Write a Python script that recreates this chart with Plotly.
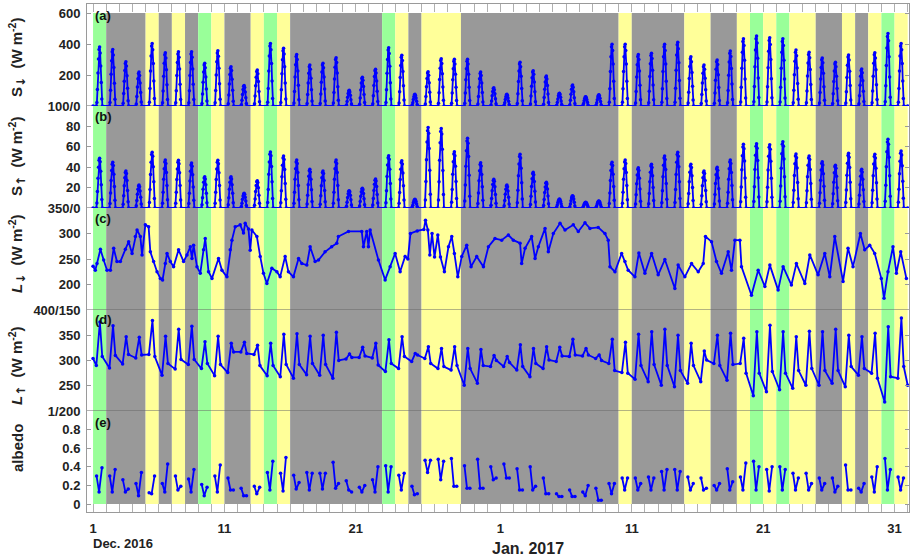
import plotly.graph_objects as go

# ---------------- data ----------------
# day number: Dec 1 2016 = 1, Jan 1 2017 = 32, Feb 1 2017 = 63
DAYS = list(range(1, 63))
# background class for each day: g = green, y = yellow, d = grey
DAY_CLASS = ("g d d d y d y d g y d d y g y d d d d d d d g y d y y y d d d "
             "d d d d d d d d d y d d d d y y d d y g y g y y d d y d y g y").split()
CLASS_COLOR = {"g": "#99ff99", "y": "#ffff99", "d": "#999999"}

# (a) incoming shortwave, daily peak (W m-2)
SDOWN_PEAK = [380, 365, 286, 219, 404, 344, 350, 350, 275, 357, 254, 133, 232, 404, 372, 333,
              264, 275, 312, 101, 185, 237, 376, 327, 75, 221, 305, 301, 301, 219, 117,
              75, 282, 228, 194, 82, 135, 60, 73, 398, 398, 333, 340, 398, 411, 318, 264,
              297, 355, 434, 452, 441, 434, 361, 346, 310, 282, 329, 239, 344, 467, 404]
# (b) reflected shortwave, daily peak (W m-2)
SUP_PEAK = [48.7, 44.8, 36.3, 22.5, 54.6, 47, 46.7, 44, 30.7, 46.7, 30.7, 14.4, 26.8, 55, 51, 47,
            38, 36.3, 47, 17, 19.3, 28.4, 51.3, 46.4, 8.5, 78.8, 78, 55.2, 68.3, 44.4, 28.1,
            22.5, 52.6, 35, 25.2, 8.8, 12, 5.6, 6.9, 44.8, 47, 39.5, 42.8, 51, 54.6, 42.8, 36.3,
            39.9, 47, 62.4, 63, 62, 65, 53, 51, 45.4, 42, 53.6, 38, 52.6, 67.3, 56]
# typical diurnal course (fraction of the daily peak), hours 6..17
HOURS = [6, 7, 8, 9, 10, 11, 12, 13, 14, 15, 16, 17]
SHAPE_DOWN = [0, 0.06, 0.28, 0.56, 0.80, 0.96, 1.0, 0.90, 0.68, 0.40, 0.12, 0]
SHAPE_UP = [0, 0.10, 0.33, 0.60, 0.82, 0.96, 1.0, 0.93, 0.74, 0.47, 0.17, 0]

# (c) incoming longwave: (day, value)
LDOWN_T = [1.00, 1.17, 1.30, 1.56, 1.81, 2.06, 2.32, 2.57, 2.82, 3.08, 3.46, 3.71, 3.97, 4.22, 4.35,
           4.60, 4.73, 4.98, 5.23, 5.36, 5.61, 5.87, 6.12, 6.29, 6.50, 6.63, 6.88, 7.13, 7.51, 7.89,
           8.15, 8.40, 8.53, 8.65, 8.91, 9.16, 9.41, 9.54, 9.79, 10.05, 10.55, 10.81, 11.19, 11.44,
           11.57, 11.82, 12.20, 12.45, 12.58, 12.83, 12.96, 13.09, 13.47, 13.72, 13.97, 14.23, 14.61,
           14.99, 15.24, 15.62, 15.87, 16.25, 16.64, 16.89, 17.27, 17.52, 17.90, 18.16, 18.66, 19.16,
           19.55, 19.67, 20.44, 21.45, 21.58, 21.83, 21.96, 22.09, 22.72, 23.23, 23.61, 23.99, 24.37,
           24.75, 24.96, 25.16, 25.67, 26.18, 26.30, 26.48, 26.63, 26.80, 26.99, 27.24, 27.44, 27.74,
           28.05, 28.30, 28.50, 28.76, 29.06, 29.44, 29.77, 30.20, 30.71, 31.09, 31.59, 32.10, 32.61,
           32.99, 33.50, 33.62, 33.88, 34.38, 34.64, 34.89, 35.40, 35.65, 36.03, 36.54, 36.92, 37.55,
           37.93, 38.44, 38.82, 39.45, 39.96, 40.21, 40.34, 40.72, 41.23, 41.48, 41.73, 42.24, 42.54,
           43.00, 43.51, 44.01, 44.52, 45.28, 45.53, 46.04, 46.55, 47.06, 47.44, 47.61, 48.07, 48.45,
           48.83, 49.34, 49.59, 49.85, 50.23, 50.35, 51.11, 51.62, 52.13, 52.51, 53.14, 53.52, 54.15,
           54.53, 55.17, 55.55, 56.18, 56.69, 57.07, 57.45, 58.08, 58.46, 58.84, 59.40, 59.73, 60.11,
           60.49, 60.99, 61.20, 61.50, 61.88, 62.14, 62.47, 62.90]
LDOWN_V = [236, 228, 241, 269, 248, 228, 228, 271, 245, 245, 269, 284, 261, 294, 307,
           294, 258, 317, 313, 264, 245, 225, 212, 209, 241, 261, 245, 235, 268, 245,
           258, 274, 251, 277, 235, 222, 268, 290, 225, 212, 251, 228, 215, 268,
           287, 313, 317, 301, 320, 309, 267, 307, 294, 255, 222, 202, 232,
           225, 215, 255, 225, 215, 251, 241, 238, 274, 245, 248, 264, 274,
           281, 294, 304, 304, 274, 304, 274, 307, 248, 209, 235, 261, 225,
           255, 250, 300, 305, 308, 326, 307, 258, 300, 254, 297, 254, 225,
           274, 294, 261, 215, 255, 277, 235, 255, 235, 274, 290, 287, 297,
           287, 281, 241, 271, 294, 251, 274, 310, 264, 300, 320, 307, 317,
           304, 321, 310, 312, 300, 287, 235, 225, 261, 245, 228, 215, 262,
           222, 261, 219, 249, 192, 238, 215, 241, 225, 241, 294, 284, 245,
           222, 264, 228, 287, 287, 235, 179, 228, 196, 238, 189, 235, 199,
           241, 202, 258, 219, 261, 215, 294, 206, 271, 235, 300, 268, 277,
           261, 212, 173, 225, 274, 222, 264, 212]

# (d) outgoing longwave: morning minimum, midday peak, evening value (W m-2)
LUP_MIN = [290, 285, 293, 305, 312, 271, 283, 292, 284, 270, 276, 317, 312, 270, 268, 265,
           272, 271, 265, 303, 306, 305, 278, 284, 298, 304, 284, 281, 251, 255, 288,
           288, 281, 268, 284, 298, 308, 309, 304, 294, 276, 263, 258, 251, 248, 255, 258,
           294, 261, 294, 230, 238, 242, 245, 251, 251, 255, 248, 271, 275, 218, 265]
LUP_PEAK = [376, 369, 347, 346, 379, 348, 362, 368, 337, 348, 334, 336, 330, 334, 352, 353,
            348, 350, 356, 313, 326, 334, 341, 347, 314, 327, 324, 327, 324, 322, 310,
            308, 331, 324, 327, 326, 342, 324, 311, 342, 336, 352, 357, 362, 350, 334, 319,
            350, 354, 344, 357, 370, 357, 347, 358, 357, 362, 350, 347, 354, 367, 384]
LUP_EVE = [308, 310, 312, 311, 308, 294, 302, 302, 294, 292, 317, 314, 290, 290, 292, 292,
           294, 292, 300, 306, 309, 291, 294, 308, 311, 294, 288, 290, 284, 290, 300,
           296, 288, 294, 301, 309, 311, 311, 300, 280, 275, 290, 292, 290, 280, 290, 301,
           290, 292, 275, 275, 278, 275, 280, 284, 280, 280, 288, 284, 265, 268, 288]
LUP_START = 304
LUP_END = 251

# (e) albedo: morning value, midday minimum, afternoon value
ALB_START = [0.30, 0.30, 0.26, 0.22, 0.12, 0.22, 0.30, 0.27, 0.21, 0.30, 0.28, 0.17, 0.19, 0.34,
             0.33, 0.31, 0.34, 0.33, 0.45, 0.25, 0.18, 0.26, 0.41, 0.31, 0.19, 0.47, 0.48, 0.49,
             0.41, 0.48, 0.40, 0.43, 0.38, 0.40, 0.28, 0.11, 0.15, 0.13, 0.17, 0.22, 0.28, 0.28,
             0.29, 0.35, 0.37, 0.29, 0.28, 0.20, 0.38, 0.29, 0.46, 0.37, 0.40, 0.33, 0.33, 0.28,
             0.28, 0.42, 0.17, 0.29, 0.49, 0.29]
ALB_MIN = [0.13, 0.13, 0.13, 0.09, 0.11, 0.13, 0.15, 0.13, 0.09, 0.13, 0.15, 0.09, 0.11, 0.15,
           0.14, 0.16, 0.15, 0.16, 0.17, 0.15, 0.13, 0.13, 0.13, 0.15, 0.10, 0.34, 0.26, 0.19,
           0.17, 0.17, 0.26, 0.28, 0.15, 0.15, 0.11, 0.08, 0.08, 0.09, 0.04, 0.11, 0.15, 0.15,
           0.15, 0.15, 0.15, 0.15, 0.15, 0.15, 0.15, 0.15, 0.15, 0.14, 0.15, 0.15, 0.15, 0.15,
           0.13, 0.15, 0.13, 0.13, 0.15, 0.15]
ALB_END = [0.39, 0.37, 0.16, 0.34, 0.30, 0.43, 0.19, 0.37, 0.18, 0.42, 0.15, 0.09, 0.18, 0.46,
           0.50, 0.23, 0.33, 0.33, 0.22, 0.13, 0.20, 0.40, 0.40, 0.33, 0.11, 0.47, 0.46, 0.19,
           0.17, 0.17, 0.28, 0.28, 0.15, 0.19, 0.11, 0.08, 0.08, 0.20, 0.04, 0.22, 0.28, 0.22,
           0.28, 0.37, 0.35, 0.22, 0.17, 0.22, 0.24, 0.44, 0.40, 0.40, 0.37, 0.28, 0.22, 0.22,
           0.19, 0.15, 0.22, 0.40, 0.37, 0.28]

TICK_DAYS = [1, 11, 21, 32, 42, 52, 62]
TICK_TEXT = ["1", "11", "21", "1", "11", "21", "31"]

# ---------------- assemble series ----------------
def diurnal(peaks, shape):
    xs, ys = [1.0], [0.0]
    for d, pk in zip(DAYS, peaks):
        for h, f in zip(HOURS, shape):
            xs.append(d + h / 24.0)
            ys.append(pk * f)
    xs.append(63.0)
    ys.append(0.0)
    return xs, ys

sd_x, sd_y = diurnal(SDOWN_PEAK, SHAPE_DOWN)
su_x, su_y = diurnal(SUP_PEAK, SHAPE_UP)

lu_x, lu_y = [1.0], [LUP_START]
for d, a, b, c in zip(DAYS, LUP_MIN, LUP_PEAK, LUP_EVE):
    lu_x += [d + 0.25, d + 0.52, d + 0.70]
    lu_y += [a, b, c]
lu_x.append(63.0)
lu_y.append(LUP_END)

al_x, al_y = [], []
for d, a, b, c in zip(DAYS, ALB_START, ALB_MIN, ALB_END):
    al_x += [d + 0.27, d + 0.46, d + 0.68, None]
    al_y += [a, b, c, None]

# ---------------- figure ----------------
FONT = "Liberation Sans, Arial, sans-serif"
BLUE = "#0000ff"
H = 508.0  # plot-area height in px (for domain fractions)

fig = go.Figure()
line = dict(color=BLUE, width=1.8)
mk = dict(color=BLUE, size=3.5)
fig.add_trace(go.Scatter(x=sd_x, y=sd_y, mode="lines+markers", line=line, marker=mk, yaxis="y"))
fig.add_trace(go.Scatter(x=su_x, y=su_y, mode="lines+markers", line=line, marker=mk, yaxis="y2"))
fig.add_trace(go.Scatter(x=LDOWN_T, y=LDOWN_V, mode="lines+markers", line=line, marker=mk, yaxis="y3"))
fig.add_trace(go.Scatter(x=lu_x, y=lu_y, mode="lines+markers", line=line, marker=mk, yaxis="y4"))
fig.add_trace(go.Scatter(x=al_x, y=al_y, mode="lines+markers", line=line, marker=mk, yaxis="y5"))
fig.add_trace(go.Scatter(x=[None], y=[None], xaxis="x2", yaxis="y", mode="markers"))

# background day classes (merged runs)
start = 0
for i in range(1, len(DAY_CLASS) + 1):
    if i == len(DAY_CLASS) or DAY_CLASS[i] != DAY_CLASS[start]:
        fig.add_shape(type="rect", xref="x", yref="paper", x0=DAYS[start], x1=DAYS[i - 1] + 1,
                      y0=8 / H, y1=499 / H, fillcolor=CLASS_COLOR[DAY_CLASS[start]],
                      line=dict(width=0), layer="below")
        start = i

# panel separators
for yr, val in [("y", 0), ("y2", 0), ("y3", 150), ("y4", 200)]:
    fig.add_shape(type="line", xref="x domain", yref=yr, x0=0, x1=1, y0=val, y1=val,
                  line=dict(color="#666666", width=1), layer="below")

tf = dict(family=FONT, size=13, color="#222222", weight="bold")
common_y = dict(anchor="x", showline=True, linecolor="#9a9a9a", linewidth=1, mirror="ticks",
                ticks="inside", ticklen=4, tickcolor="#9a9a9a", showgrid=False, zeroline=False,
                tickfont=tf, tickmode="array", ticklabelstandoff=3)

fig.update_layout(
    width=913, height=559,
    margin=dict(l=87, r=4, t=4, b=47),
    paper_bgcolor="white", plot_bgcolor="white",
    showlegend=False,
    xaxis=dict(domain=[0, 1], range=[0.54, 63.1], anchor="y5", showline=True, linecolor="#9a9a9a",
               ticks="inside", ticklen=8, tickcolor="#b0b0b0", tickmode="array",
               tickvals=TICK_DAYS, ticktext=TICK_TEXT, tickfont=tf, showgrid=False, zeroline=False,
               ticklabelstandoff=4,
               minor=dict(tickvals=list(range(1, 64)), ticks="inside", ticklen=8,
                          tickcolor="#b0b0b0", showgrid=False)),
    xaxis2=dict(overlaying="x", side="top", anchor="y", range=[0.54, 63.1], showline=True,
                linecolor="#9a9a9a", ticks="inside", ticklen=8, tickcolor="#b0b0b0",
                tickmode="array", tickvals=TICK_DAYS, showticklabels=False, showgrid=False,
                zeroline=False,
                minor=dict(tickvals=list(range(1, 64)), ticks="inside", ticklen=8,
                           tickcolor="#b0b0b0", showgrid=False)),
    yaxis=dict(domain=[406 / H, 1.0], range=[0, 600 + 9 * 600 / 93],
               tickvals=[0, 200, 400, 600], ticktext=["100/0", "200", "400", "600"], **common_y),
    yaxis2=dict(domain=[304 / H, 406 / H], range=[0, 100],
                tickvals=[0, 20, 40, 60, 80], ticktext=["350/0", "20", "40", "60", "80"], **common_y),
    yaxis3=dict(domain=[202 / H, 304 / H], range=[150, 350],
                tickvals=[150, 200, 250, 300], ticktext=["400/150", "200", "250", "300"], **common_y),
    yaxis4=dict(domain=[101 / H, 202 / H], range=[200, 400],
                tickvals=[200, 250, 300, 350], ticktext=["1/200", "250", "300", "350"], **common_y),
    yaxis5=dict(domain=[0, 101 / H], range=[-8 / 93, 1],
                tickvals=[0, 0.2, 0.4, 0.6, 0.8], ticktext=["0", "0.2", "0.4", "0.6", "0.8"], **common_y),
)

def py(px):
    return (512 - px) / H

def px_x(px):
    return (px - 87) / 822.0

# panel letters
for lab, ypx in [("(a)", 16), ("(b)", 116.7), ("(c)", 218), ("(d)", 319), ("(e)", 422.7)]:
    fig.add_annotation(text=lab, xref="paper", yref="paper", x=px_x(93), y=py(ypx),
                       xanchor="left", yanchor="middle", showarrow=False,
                       font=dict(family=FONT, size=13, color="#111111", weight="bold"))

# y-axis titles
tt = dict(family=FONT, size=15, color="#222222", weight="bold")
ARW = '<span style="font-family:DejaVu Sans;font-size:12px">{}</span>'
titles = [("S<sub>" + ARW.format("↓") + "</sub>  (W m<sup>-2</sup>)", 58),
          ("S<sub>" + ARW.format("↑") + "</sub>  (W m<sup>-2</sup>)", 157),
          ("<i>L</i><sub>" + ARW.format("↓") + "</sub>  (W m<sup>-2</sup>)", 254),
          ("<i>L</i><sub>" + ARW.format("↑") + "</sub>  (W m<sup>-2</sup>)", 366),
          ("albedo", 448)]
for txt, ypx in titles:
    fig.add_annotation(text=txt, xref="paper", yref="paper", x=px_x(17), y=py(ypx),
                       xanchor="center", yanchor="middle", textangle=-90, showarrow=False, font=tt)

fig.add_annotation(text="Dec. 2016", xref="paper", yref="paper", x=px_x(91), y=py(543),
                   xanchor="left", yanchor="middle", showarrow=False,
                   font=dict(family=FONT, size=13, color="#222222", weight="bold"))
fig.add_annotation(text="Jan. 2017", xref="paper", yref="paper", x=px_x(528), y=py(548),
                   xanchor="center", yanchor="middle", showarrow=False,
                   font=dict(family=FONT, size=16, color="#222222", weight="bold"))

fig.write_html("out.html")
